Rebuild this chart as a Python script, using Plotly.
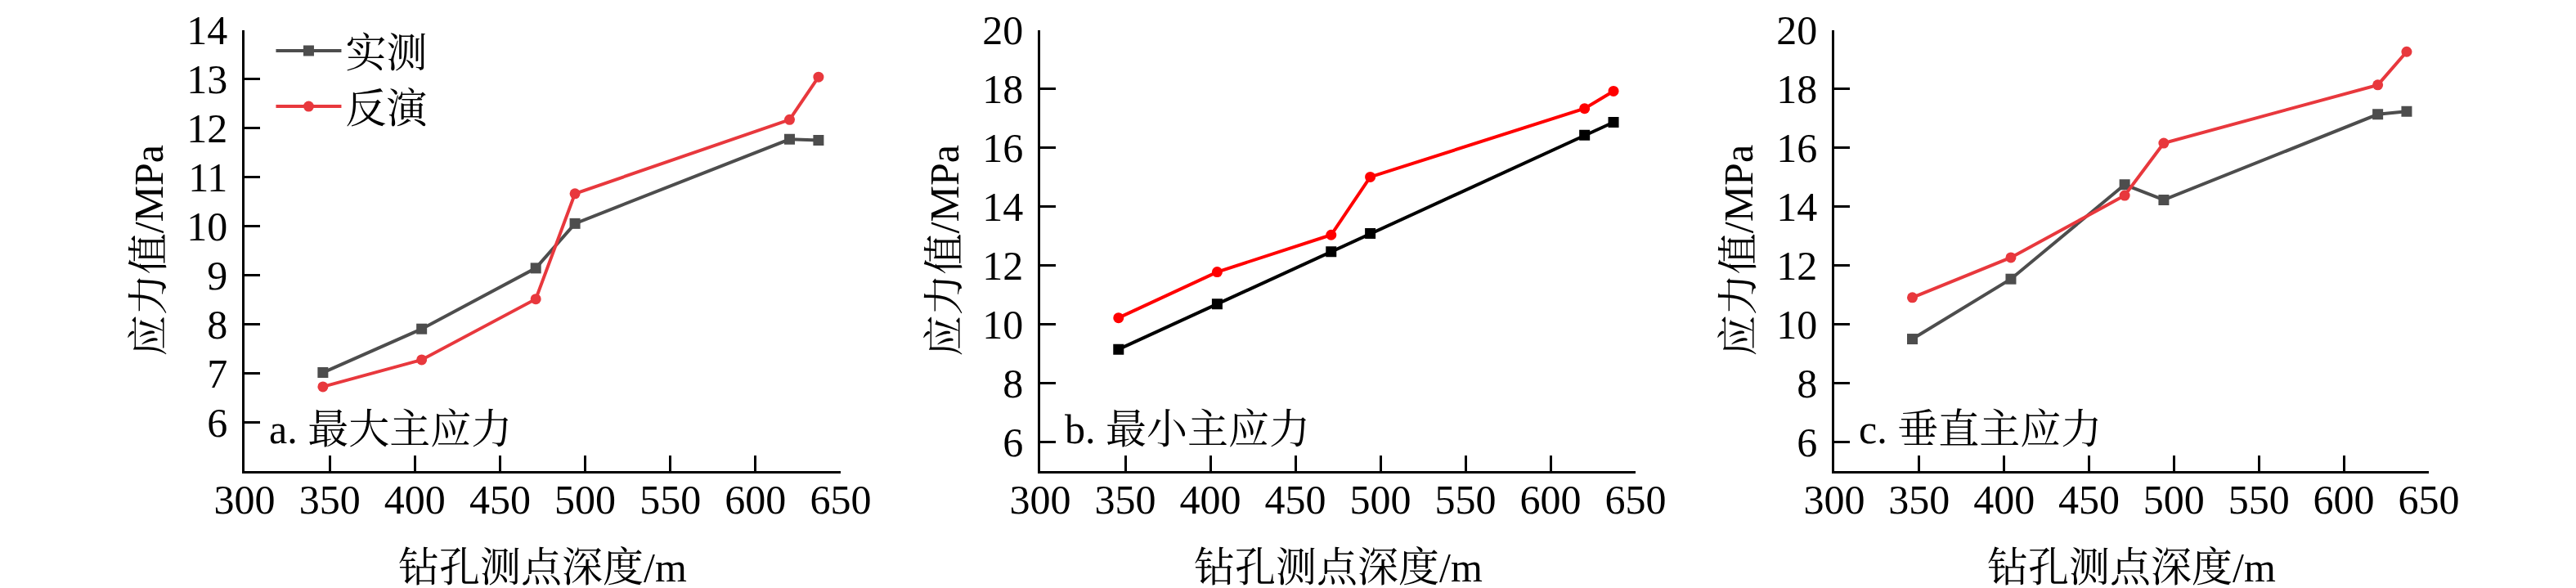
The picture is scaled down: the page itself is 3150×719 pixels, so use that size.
import plotly.graph_objects as go
from plotly.subplots import make_subplots

# depth of the borehole measurement points (m)
depth = [346, 404, 471, 494, 620, 637]

# a. maximum principal stress (MPa)
max_measured = [7.01, 7.90, 9.14, 10.05, 11.77, 11.75]
max_inverted = [6.72, 7.27, 8.51, 10.66, 12.17, 13.04]

# b. minimum principal stress (MPa)
min_measured = [9.14, 10.68, 12.46, 13.08, 16.42, 16.86]
min_inverted = [10.21, 11.77, 13.03, 15.00, 17.33, 17.92]

# c. vertical principal stress (MPa)
ver_measured = [9.49, 11.53, 14.74, 14.22, 17.13, 17.23]
ver_inverted = [10.90, 12.26, 14.37, 16.15, 18.13, 19.26]

panel_labels = ["a. 最大主应力", "b. 最小主应力", "c. 垂直主应力"]
x_ticks = [300, 350, 400, 450, 500, 550, 600, 650]
y_ticks_a = [6, 7, 8, 9, 10, 11, 12, 13, 14]
y_ticks_bc = [6, 8, 10, 12, 14, 16, 18, 20]

FONT = "Liberation Serif, Times New Roman, Noto Serif CJK SC, Noto Sans CJK SC, serif"
GRAY = "#4d4d4d"
RED = "#e8383d"

fig = make_subplots(rows=1, cols=3)

panels = [
    (max_measured, max_inverted, GRAY, RED, True),
    (min_measured, min_inverted, "#000000", "#ff0000", False),
    (ver_measured, ver_inverted, GRAY, RED, False),
]

for i, (meas, inv, c_meas, c_inv, legend) in enumerate(panels, start=1):
    fig.add_trace(go.Scatter(
        x=depth, y=meas, name="实测", mode="lines+markers",
        line=dict(color=c_meas, width=4),
        marker=dict(symbol="square", size=13, color=c_meas),
        showlegend=legend,
    ), row=1, col=i)
    fig.add_trace(go.Scatter(
        x=depth, y=inv, name="反演", mode="lines+markers",
        line=dict(color=c_inv, width=4),
        marker=dict(symbol="circle", size=13, color=c_inv),
        showlegend=legend,
    ), row=1, col=i)

x_domains = [[0.0924, 0.3238], [0.4013, 0.6324], [0.7095, 0.9403]]
y_domain = [0.210, 0.9602]

axis_style = dict(
    showgrid=False, zeroline=False, showline=True, linecolor="black",
    linewidth=2.5, ticks="inside", ticklen=19, tickwidth=2.5, automargin=False,
    tickcolor="black", tickfont=dict(family=FONT, size=50, color="black"),
)

for i in range(3):
    fig.update_xaxes(axis_style, domain=x_domains[i], range=[300, 650],
                     tickvals=x_ticks, ticklabelstandoff=-11, row=1, col=i + 1)
    if i == 0:
        fig.update_yaxes(axis_style, domain=y_domain, range=[5, 14],
                         tickvals=y_ticks_a, ticklabelstandoff=8, row=1, col=1)
    else:
        fig.update_yaxes(axis_style, domain=y_domain, range=[5, 20],
                         tickvals=y_ticks_bc, ticklabelstandoff=8, row=1, col=i + 1)

    xname = "x" if i == 0 else f"x{i + 1}"
    yname = "y" if i == 0 else f"y{i + 1}"
    # axis titles
    fig.add_annotation(text="应力值/MPa", xref=f"{xname} domain", yref=f"{yname} domain",
                       x=0, y=0.5, xshift=-117, xanchor="center", yanchor="middle",
                       textangle=-90, showarrow=False,
                       font=dict(family=FONT, size=50, color="black"))
    fig.add_annotation(text="钻孔测点深度/m", xref=f"{xname} domain", yref="paper",
                       x=0.5, y=(719 - 686) / 719, xanchor="center", yanchor="middle",
                       showarrow=False,
                       font=dict(family=FONT, size=50, color="black"))
    # panel label
    fig.add_annotation(text=panel_labels[i], xref=f"{xname} domain", yref=f"{yname} domain",
                       x=0, y=0.095, xshift=28, xanchor="left", yanchor="middle",
                       showarrow=False,
                       font=dict(family=FONT, size=50, color="black"))

fig.update_layout(
    width=3150, height=719,
    margin=dict(l=0, r=0, t=0, b=0),
    paper_bgcolor="white", plot_bgcolor="white",
    font=dict(family=FONT, size=50, color="black"),
    legend=dict(x=0.103, y=0.979, xanchor="left", yanchor="top",
                bgcolor="rgba(0,0,0,0)", font=dict(family=FONT, size=50),
                itemwidth=80, tracegroupgap=0),
)

fig.write_html("out.html")
